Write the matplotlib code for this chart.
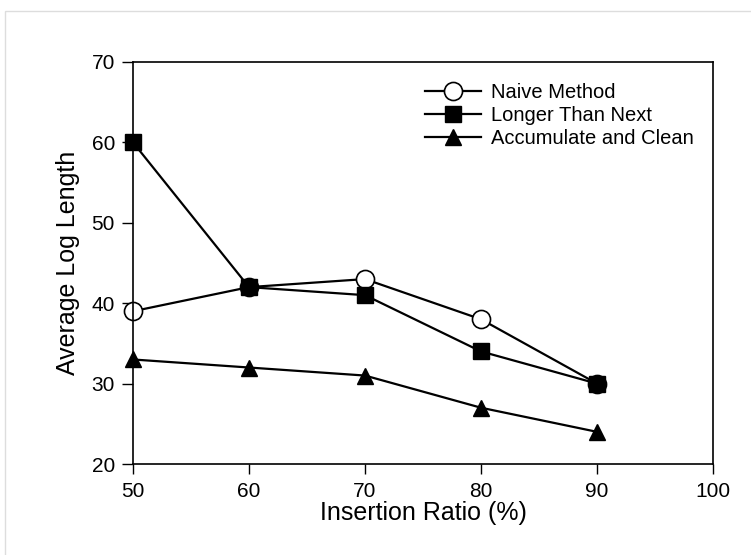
import matplotlib
matplotlib.use('Agg')
import matplotlib.pyplot as plt
from matplotlib.patches import Rectangle

plt.rcParams['font.family'] = ['Liberation Sans', 'DejaVu Sans']

ratio = [50, 60, 70, 80, 90]
naive = [39, 42, 43, 38, 30]
longer = [60, 42, 41, 34, 30]
accum = [33, 32, 31, 27, 24]

fig = plt.figure(figsize=(7.51, 5.55), dpi=100)
ax = fig.add_axes([133/751, 1-464/555, 580/751, 402/555])

# light frame around the figure
fig.add_artist(Rectangle((5/751, -0.1), 1, 1-11/555+0.1, transform=fig.transFigure,
                         fill=False, edgecolor='#dddddd', linewidth=1))

ax.plot(ratio, naive, color='black', lw=1.6, marker='o', ms=13,
        mfc='white', mec='black', mew=1.2, label='Naive Method', clip_on=False)
ax.plot(ratio, longer, color='black', lw=1.6, marker='s', ms=11,
        mfc='black', mec='black', label='Longer Than Next', clip_on=False)
ax.plot(ratio, accum, color='black', lw=1.6, marker='^', ms=12,
        mfc='black', mec='black', label='Accumulate and Clean', clip_on=False)

ax.set_xlim(50, 100)
ax.set_ylim(20, 70)
ax.set_xticks([50, 60, 70, 80, 90, 100])
ax.set_yticks([20, 30, 40, 50, 60, 70])
ax.tick_params(axis='y', direction='out', length=8, width=1, labelsize=15, pad=5)
ax.tick_params(axis='x', direction='out', length=7, width=1, labelsize=15, pad=6)
for s in ax.spines.values():
    s.set_linewidth(1.2)

ax.set_xlabel('Insertion Ratio (%)', fontsize=18, labelpad=0)
ax.set_ylabel('Average Log Length', fontsize=18, labelpad=8)

ax.legend(loc='upper left', frameon=False, fontsize=14.5, handlelength=2.8,
          handletextpad=0.5, labelspacing=0.2, borderpad=0, borderaxespad=0,
          bbox_to_anchor=(425/751, 1-83/555), bbox_transform=fig.transFigure)

fig.savefig('out.png', dpi=100)
